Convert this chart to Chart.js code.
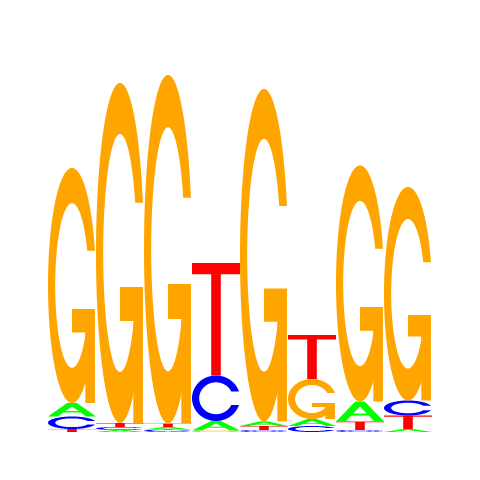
<!DOCTYPE html>
<html>
<head>
<meta charset="utf-8">
<script src="https://cdn.jsdelivr.net/npm/chart.js@4/dist/chart.umd.min.js"></script>
<style>
  html, body { margin:0; padding:0; background:#fff; }
</style>
</head>
<body>
<canvas id="logo" width="480" height="480"></canvas>
<script>
// motif positions and per-letter heights (bits)
const positions = ['1','2','3','4','5','6','7','8'];
const bitsA = [0.0675, 0.010, 0.013, 0.0475, 0.0225, 0.035, 0.100, 0.015];
const bitsC = [0.0625, 0.015, 0.012, 0.2275, 0.010, 0.030, 0.010, 0.075];
const bitsG = [1.175, 1.700, 1.7425, 0.0075, 1.6625, 0.200, 1.180, 1.0675];
const bitsT = [0.015, 0.020, 0.0175, 0.5625, 0.020, 0.220, 0.0425, 0.0675];

// letter outlines in a unit box (x right, y up)
function circlePart(){
  const N = 100, lin = (a,b)=> Array.from({length:N}, (_,k)=> a+(b-a)*k/(N-1));
  const a1 = lin(0.3+Math.PI/2, Math.PI), a2 = lin(Math.PI, 1.5*Math.PI);
  const xl1 = a1.map(a=>0.5+0.5*Math.sin(a)), yl1 = a1.map(a=>0.5+0.5*Math.cos(a));
  const xl = xl1.concat(a2.map(a=>0.5+0.5*Math.sin(a)));
  const yl = yl1.concat(a2.map(a=>0.5+0.5*Math.cos(a)));
  const ox = xl.concat(xl.slice().reverse());
  const oy = yl.concat(yl.slice().reverse().map(v=>1-v));
  const h = Math.max(...yl1);
  let xi1 = a1.map(a=>0.5+0.35*Math.sin(a)), yi1 = a1.map(a=>0.5+0.35*Math.cos(a));
  const keep = yi1.map(v=> v<=h);
  xi1 = xi1.filter((_,k)=>keep[k]); yi1 = yi1.filter((_,k)=>keep[k]);
  yi1[0] = h;
  const xi = xi1.concat(a2.map(a=>0.5+0.35*Math.sin(a)));
  const yi = yi1.concat(a2.map(a=>0.5+0.35*Math.cos(a)));
  const ix = xi.concat(xi.slice().reverse());
  const iy = yi.concat(yi.slice().reverse().map(v=>1-v));
  const x = ox.concat(ix.slice().reverse()), y = oy.concat(iy.slice().reverse());
  return { pts: x.map((v,k)=>[v,y[k]]), r1: Math.max(...xl1) };
}
const ring = circlePart();
const r1 = ring.r1, h1 = 0.4;
const shapes = {
  A: [
    { fill:'#00ff00', pts:[[0,0],[.4,1],[.6,1],[1,0],[.8,0],[.68,.3],[.32,.3],[.2,0],[0,0]] },
    { fill:'#ffffff', pts:[[.36,.4],[.5,.75],[.64,.4],[.36,.4]] }
  ],
  C: [ { fill:'#0000ff', pts: ring.pts } ],
  G: [
    { fill:'#ffa500', pts: ring.pts },
    { fill:'#ffa500', pts:[[r1,h1],[.5,h1],[.5,h1-.1],[r1-.2,h1-.1],[r1-.2,0],[r1,0],[r1,h1]] }
  ],
  T: [ { fill:'#ff0000', pts:[[0,1],[1,1],[1,.9],[.6,.9],[.6,0],[.4,0],[.4,.9],[0,.9]] } ]
};

// stack each column smallest at the bottom
const layers = [[],[],[],[]];
const layerLetters = [[],[],[],[]];
positions.forEach((p, i) => {
  const col = [['A',bitsA[i]],['C',bitsC[i]],['G',bitsG[i]],['T',bitsT[i]]]
    .sort((a,b)=> a[1]-b[1]);
  col.forEach((c, k) => { layers[k].push(c[1]); layerLetters[k].push(c[0]); });
});

const letterPlugin = {
  id:'letters',
  afterDatasetsDraw(chart){
    const ctx = chart.ctx;
    chart.data.datasets.forEach((ds, di) => {
      chart.getDatasetMeta(di).data.forEach((bar, i) => {
        const { x, y, base, width } = bar.getProps(['x','y','base','width'], true);
        const h = base - y;
        if (h <= 0) return;
        const left = x - width/2;
        shapes[ds.letters[i]].forEach(part => {
          ctx.beginPath();
          part.pts.forEach(([u,v], k) => {
            const px = left + u*width, py = base - v*h;
            if (k) ctx.lineTo(px, py); else ctx.moveTo(px, py);
          });
          ctx.closePath();
          ctx.fillStyle = part.fill;
          ctx.fill();
        });
      });
    });
  }
};

new Chart(document.getElementById('logo'), {
  type:'bar',
  data:{
    labels: positions,
    datasets: layers.map((vals, k) => ({
      data: vals,
      letters: layerLetters[k],
      backgroundColor:'rgba(0,0,0,0)',
      borderWidth:0,
      barPercentage:1,
      categoryPercentage:1
    }))
  },
  options:{
    responsive:false,
    animation:false,
    devicePixelRatio:1,
    layout:{ padding:{ left:48, right:48, top:32, bottom:48 } },
    plugins:{ legend:{ display:false }, tooltip:{ enabled:false } },
    scales:{
      x:{ stacked:true, display:false },
      y:{ stacked:true, display:false, min:0, max:2 }
    }
  },
  plugins:[letterPlugin]
});
</script>
</body>
</html>
